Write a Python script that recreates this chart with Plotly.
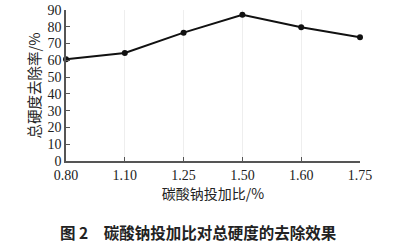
import plotly.graph_objects as go

ratios = ["0.80", "1.10", "1.25", "1.50", "1.60", "1.75"]
removal = [60.6, 64.4, 76.5, 87.2, 79.7, 73.7]
y_ticks = [0, 10, 20, 30, 40, 50, 60, 70, 80, 90]

fig = go.Figure()
fig.add_trace(go.Scatter(
    x=list(range(len(ratios))), y=removal, mode="lines+markers",
    line=dict(color="#111111", width=2),
    marker=dict(color="#111111", size=6),
    showlegend=False,
    cliponaxis=False,
))

serif = "Liberation Serif, Times New Roman, serif"
cjk = "Noto Sans CJK SC"

fig.update_layout(
    width=399, height=247,
    margin=dict(l=66, r=39, t=10, b=86, autoexpand=False),
    paper_bgcolor="white", plot_bgcolor="white",
    xaxis=dict(
        tickmode="array", tickvals=list(range(len(ratios))), ticktext=ratios,
        range=[0, len(ratios) - 1], automargin=False,
        showline=True, linecolor="#555555", linewidth=1.5,
        ticks="inside", ticklen=4, tickcolor="#555555",
        showgrid=True, gridcolor="#eeeeee", gridwidth=1,
        zeroline=False,
        tickfont=dict(family=serif, size=14, color="#222222"),
        title=dict(text="碳酸钠投加比/%", font=dict(family=cjk, size=14, color="#222222"), standoff=2),
    ),
    yaxis=dict(
        range=[0, 90], tickmode="array", tickvals=y_ticks, automargin=False,
        showline=True, linecolor="#555555", linewidth=1.5,
        ticks="inside", ticklen=4, tickcolor="#555555",
        showgrid=False, zeroline=False,
        tickfont=dict(family=serif, size=14, color="#222222"),
        title=dict(text="总硬度去除率/%", font=dict(family=cjk, size=14.5, color="#222222"), standoff=3),
    ),
)

fig.add_annotation(
    text="<b>图 2　碳酸钠投加比对总硬度的去除效果</b>",
    xref="paper", yref="paper", x=0.452, y=-0.47, xanchor="center", yanchor="middle",
    showarrow=False, font=dict(family=cjk, size=15.5, color="#222222"),
)

fig.write_html("out.html")
